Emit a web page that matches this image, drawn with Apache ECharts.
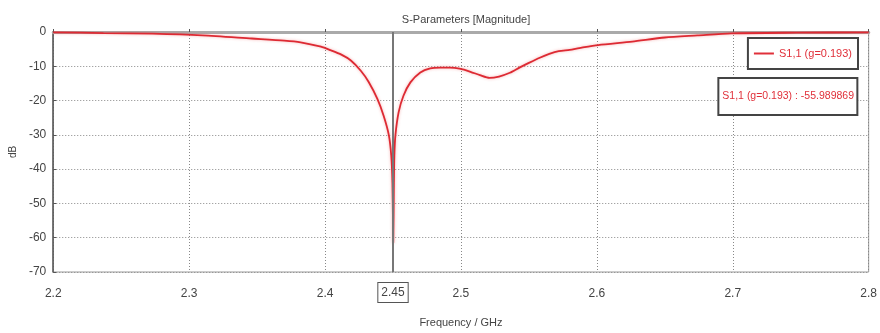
<!DOCTYPE html>
<html>
<head>
<meta charset="utf-8">
<script src="https://cdn.jsdelivr.net/npm/echarts@6/dist/echarts.min.js"></script>
<style>
  html, body { margin: 0; padding: 0; background: #fff; }
  #chart { width: 880px; height: 333px; }
</style>
</head>
<body>
<div id="chart"></div>
<script>
// S11 magnitude sweep (GHz, dB)
const freqGHz = [2.2, 2.237, 2.273, 2.31, 2.346, 2.37, 2.382, 2.397, 2.404, 2.412, 2.419, 2.4263,
  2.432, 2.4385, 2.4431, 2.4469, 2.4487, 2.4496, 2.45, 2.4502, 2.4506, 2.451, 2.4518, 2.4542,
  2.4577, 2.4628, 2.4701, 2.4774, 2.4847, 2.492, 2.499, 2.507, 2.514, 2.521, 2.528, 2.536,
  2.543, 2.55, 2.558, 2.565, 2.572, 2.58, 2.587, 2.601, 2.626, 2.65, 2.674, 2.699, 2.747, 2.8];
const s11dB = [-0.1, -0.3, -0.5, -1.0, -1.9, -2.5, -3.0, -4.3, -5.3, -6.6, -8.3, -11.3,
  -14.5, -19.5, -24.4, -30, -36, -44, -55.989869, -61.5, -46, -36, -30, -23.3,
  -18.6, -14.7, -11.8, -10.6, -10.4, -10.4, -10.7, -11.6, -12.6, -13.4, -13.0, -11.9,
  -10.4, -9.0, -7.5, -6.4, -5.6, -5.2, -4.7, -3.8, -2.8, -1.6, -1.0, -0.4, -0.2, -0.1];
const seriesName = 'S1,1 (g=0.193)';
const markerFreq = 2.45;
const markerValue = -55.989869;
const xTicks = [2.2, 2.3, 2.4, 2.5, 2.6, 2.7, 2.8];
const yTicks = [0, -10, -20, -30, -40, -50, -60, -70];

const FONT = '"Liberation Sans Narrow", "Liberation Sans", sans-serif';
const points = freqGHz.map((f, i) => [f, s11dB[i]]);

const chart = echarts.init(document.getElementById('chart'));
chart.setOption({
  animation: false,
  textStyle: { fontFamily: FONT },
  title: [
    {
      text: 'S-Parameters [Magnitude]',
      left: 461, top: 9, textAlign: 'center',
      textStyle: { fontFamily: FONT, fontSize: 11, fontWeight: 'normal', color: '#444' }
    },
    {
      // marker readout box
      text: seriesName + ' : ' + markerValue.toFixed(6),
      right: 22, top: 78,
      padding: [13, 4, 13, 4],
      borderColor: '#444', borderWidth: 2, backgroundColor: '#fff',
      textStyle: { fontFamily: FONT, fontSize: 10.5, fontWeight: 'normal', color: '#e0303a' }
    }
  ],
  legend: {
    right: 22, top: 38,
    padding: [10, 6, 10, 6],
    borderColor: '#444', borderWidth: 2, backgroundColor: '#fff',
    itemWidth: 20, itemHeight: 2, itemGap: 4,
    icon: 'rect',
    textStyle: { fontFamily: FONT, fontSize: 11, color: '#e0303a', padding: [0, 0, 0, 0] },
    data: [seriesName]
  },
  grid: { left: 50, right: 7, top: 32, bottom: 57, show: true, borderColor: '#999', borderWidth: 1 },
  xAxis: [
    {
      type: 'value', min: 2.2, max: 2.8, interval: 0.1,
      name: 'Frequency / GHz', nameLocation: 'middle', nameGap: 45,
      nameTextStyle: { fontFamily: FONT, fontSize: 11, color: '#444' },
      axisLine: { show: true, lineStyle: { color: '#555', width: 1.5 } },
      axisTick: { show: true, length: 3, inside: true, lineStyle: { color: '#555' } },
      axisLabel: {
        fontFamily: FONT, fontSize: 12, color: '#444', margin: 16,
        formatter: v => {
          const t = xTicks.find(x => Math.abs(x - v) < 1e-6);
          return t === undefined ? '' : String(t);
        }
      },
      splitLine: { show: true, lineStyle: { color: '#888', type: [1, 2], width: 1 } }
    },
    {
      // top frame edge
      type: 'value', min: 2.2, max: 2.8, position: 'top',
      axisLine: { show: true, lineStyle: { color: '#aaa', width: 3 } },
      axisTick: { show: false }, axisLabel: { show: false }, splitLine: { show: false }
    }
  ],
  yAxis: {
    type: 'value', min: -70, max: 0, interval: 10,
    name: 'dB', nameLocation: 'middle', nameGap: 32, nameRotate: 90,
    nameTextStyle: { fontFamily: FONT, fontSize: 10, color: '#444' },
    axisLine: { show: true, lineStyle: { color: '#555', width: 1.5 } },
    axisTick: { show: true, length: 3, inside: true, lineStyle: { color: '#555' } },
    axisLabel: {
      fontFamily: FONT, fontSize: 12, color: '#444', margin: 7,
      formatter: v => (yTicks.includes(v) ? String(v) : '')
    },
    splitLine: { show: true, lineStyle: { color: '#888', type: [1, 2], width: 1 } }
  },
  series: [{
    name: seriesName,
    type: 'line',
    data: points,
    showSymbol: false,
    smooth: 0.25,
    color: '#e0303a',
    lineStyle: { color: '#dd2a33', width: 1.8, shadowColor: 'rgba(235,80,80,0.45)', shadowBlur: 3 },
    z: 3,
    markLine: {
      silent: true,
      symbol: 'none',
      z: 4,
      lineStyle: { color: '#777', width: 2, type: 'solid' },
      label: {
        show: true, position: 'start', distance: 11,
        formatter: String(markerFreq),
        fontFamily: FONT, fontSize: 12, color: '#444',
        borderColor: '#555', borderWidth: 1, padding: [4, 3, 3, 3], backgroundColor: '#fff'
      },
      data: [{ xAxis: markerFreq }]
    }
  }]
});
</script>
</body>
</html>
